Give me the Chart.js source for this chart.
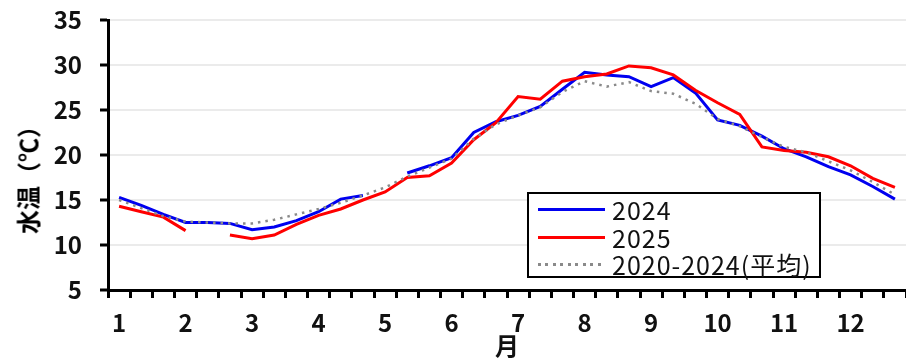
<!DOCTYPE html>
<html>
<head>
<meta charset="utf-8">
<script src="https://cdn.jsdelivr.net/npm/chart.js@4"></script>
<style>
  body { margin: 0; background: #fff; }
  #wrap { position: relative; width: 906px; height: 358px; font-family: "Noto Sans CJK JP", "Noto Sans", sans-serif; }
  #ytitle { position: absolute; left: 27px; top: 174px; transform: translate(-50%, -50%) rotate(-90deg);
            font-weight: bold; font-size: 24px; white-space: nowrap; color: #000; }
  #legend { position: absolute; left: 527px; top: 192px; width: 290px; height: 82px;
            border: 2px solid #000; background: #fff; }
  .row { position: absolute; left: 0; height: 28px; width: 100%; }
  .sample { position: absolute; left: 9px; top: 13px; width: 67px; height: 3px; }
  .label { position: absolute; left: 83px; top: 0; font-size: 25px; line-height: 28px; letter-spacing: 1px; color: #111; white-space: nowrap; }
</style>
</head>
<body>
<div id="wrap">
  <canvas id="theCanvas" width="906" height="358"></canvas>
  <div id="ytitle">水温（℃）</div>
  <div id="legend"></div>
</div>
<script>
// months on the x axis, three ten-day periods each
var months = [1, 2, 3, 4, 5, 6, 7, 8, 9, 10, 11, 12]
var yTicks = [5, 10, 15, 20, 25, 30, 35]

// water temperature per ten-day period
var temp2024 = [15.3, 14.4, 13.4, 12.5, 12.5, 12.4, 11.7, 12.0, 12.7, 13.7, 15.1, 15.5,
                null, 18.0, 18.8, 19.7, 22.5, 23.7, 24.4, 25.4, 27.3, 29.2, 28.9, 28.7,
                27.6, 28.6, 26.9, 23.9, 23.3, 22.1, 20.7, 19.8, 18.7, 17.8, 16.5, 15.1]
var temp2025 = [14.3, 13.7, 13.1, 11.6, null, 11.1, 10.7, 11.1, 12.3, 13.3, 14.0, 15.0,
                15.9, 17.5, 17.7, 19.1, 21.7, 23.6, 26.5, 26.2, 28.2, 28.7, 29.0, 29.9,
                29.7, 28.9, 27.2, 25.8, 24.5, 20.9, 20.5, 20.3, 19.8, 18.8, 17.4, 16.4]
var tempAvg = [15.0, 14.1, 13.2, 12.6, 12.5, 12.4, 12.4, 12.8, 13.4, 14.0, 14.7, 15.5,
               16.4, 17.6, 18.6, 19.6, 21.8, 23.4, 24.4, 25.3, 27.0, 28.2, 27.6, 28.1,
               27.1, 26.8, 25.7, 24.0, 23.2, 22.0, 20.9, 20.3, 19.3, 18.3, 17.0, 15.6]

var seriesNames = ['2024', '2025', '2020-2024(平均)']

var labels = []
for (var i = 0; i < months.length; i++) {
    labels.push(String(months[i]), '', '')
}

var tickFont = { family: '"Noto Sans CJK JP", "Noto Sans", sans-serif', size: 24, weight: 'bold' }

var ctx = document.getElementById('theCanvas')
var myChart = new Chart(ctx, {
    type: 'line',
    data: {
        labels: labels,
        datasets: [{
            label: seriesNames[0],
            data: temp2024,
            borderColor: '#0000f0',
            borderWidth: 3,
            order: 3
        }, {
            label: seriesNames[1],
            data: temp2025,
            borderColor: '#ff0000',
            borderWidth: 3,
            order: 2
        }, {
            label: seriesNames[2],
            data: tempAvg,
            borderColor: '#8a8a8a',
            borderWidth: 2.5,
            borderDash: [2.5, 5],
            order: 1
        }]
    },
    options: {
        responsive: false,
        animation: false,
        spanGaps: false,
        elements: { point: { radius: 0 }, line: { tension: 0 } },
        layout: { padding: { top: 20, right: 0, left: 0, bottom: 0 } },
        plugins: { legend: { display: false }, tooltip: { enabled: false } },
        scales: {
            x: {
                offset: true,
                border: { color: '#000', width: 3 },
                grid: { offset: true, drawOnChartArea: false, tickLength: 8, tickWidth: 3, tickColor: '#000' },
                ticks: { autoSkip: false, maxRotation: 0, padding: 10, color: '#111', font: tickFont },
                title: { display: true, text: '月', color: '#111', padding: 0,
                         font: { family: tickFont.family, size: 24, weight: 'bold', lineHeight: 1 } },
                afterFit: function (s) { s.height = 68; s.paddingLeft = 0; s.paddingRight = 0 }
            },
            y: {
                min: yTicks[0],
                max: yTicks[yTicks.length - 1],
                border: { color: '#000', width: 3 },
                grid: { color: '#ebebeb', lineWidth: 2, tickLength: 8, tickWidth: 3, tickColor: '#000' },
                afterBuildTicks: function (s) { s.ticks = yTicks.map(function (v) { return { value: v } }) },
                ticks: { padding: 18, color: '#111', font: tickFont },
                afterFit: function (s) { s.width = 108; s.paddingTop = 0; s.paddingBottom = 0 }
            }
        }
    }
})

// legend box drawn over the plot
var legendStyles = [
    'background:#0000f0',
    'background:#ff0000',
    'background:repeating-linear-gradient(90deg,#8a8a8a 0 3px,transparent 3px 7.5px)'
]
var legend = document.getElementById('legend')
for (var j = 0; j < seriesNames.length; j++) {
    var row = document.createElement('div')
    row.className = 'row'
    row.style.top = (1 + j * 27.5) + 'px'
    row.innerHTML = '<div class="sample" style="' + legendStyles[j] + '"></div><div class="label">' + seriesNames[j] + '</div>'
    legend.appendChild(row)
}
</script>
</body>
</html>
